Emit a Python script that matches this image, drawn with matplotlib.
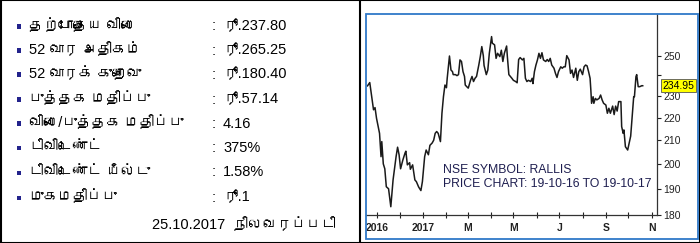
import matplotlib
matplotlib.use("Agg")
import matplotlib.pyplot as plt
import matplotlib.transforms as mtransforms
from matplotlib.patches import Rectangle
from matplotlib import font_manager
from matplotlib.ft2font import FT2Font
import pandas as pd

# --- Datos de la tabla ---
LABELS = ["தற்போதைய விலை", "52 வார அதிகம்", "52 வாரக் குறைவு", "புத்தக மதிப்பு",
          "விலை/புத்தக மதிப்பு", "டிவிடெண்ட்", "டிவிடெண்ட் யீல்டு", "முகமதிப்பு"]
VALUES = ["ரூ.237.80", "ரூ.265.25", "ரூ.180.40", "ரூ.57.14", "4.16", "375%", "1.58%", "ரூ.1"]
FOOTER = "25.10.2017  நிலவரப்படி"

# --- Datos del gráfico (días desde 19-10-2016, precio de cierre) ---
START_DATE = "2016-10-19"
DAYS = [0, 3, 8, 10, 12, 16, 18, 19, 21, 23, 25, 28, 31, 34, 38, 40, 42, 44, 47, 50,
        51, 53, 56, 57, 60, 63, 65, 68, 71, 73, 76, 78, 81, 83, 86, 88, 90, 92, 94, 97,
        99, 101, 103, 105, 106, 109, 111, 113, 114, 117, 119, 121, 123, 125, 127, 129, 130, 132, 134, 137,
        139, 141, 143, 145, 148, 150, 152, 154, 155, 158, 160, 162, 165, 166, 169, 171, 173, 176, 178, 180,
        182, 185, 186, 188, 190, 192, 194, 197, 199, 201, 203, 206, 208, 210, 212, 214, 217, 219, 220, 222,
        224, 226, 228, 230, 232, 234, 237, 239, 241, 243, 245, 248, 250, 252, 254, 257, 259, 261, 263, 265,
        268, 270, 272, 274, 277, 279, 281, 283, 286, 288, 290, 292, 294, 296, 297, 298, 300, 301, 303, 305,
        308, 310, 312, 314, 317, 319, 321, 323, 326, 328, 330, 332, 334, 337, 338, 340, 341, 343, 346, 348,
        350, 352, 354, 355, 357, 358, 360, 362, 365, 366]
PRICES = [234.9, 236.5, 223.6, 224.6, 219.7, 213.0, 203.0, 209.4, 200.0, 198.0,
          190.8, 190.0, 183.1, 193.5, 203.0, 207.0, 203.8, 198.0, 201.6, 204.6,
          205.3, 199.6, 200.5, 197.8, 199.6, 193.5, 192.8, 190.7, 189.3, 192.8,
          203.0, 205.8, 203.8, 207.8, 208.8, 210.0, 213.0, 213.8, 213.0, 209.4,
          222.0, 229.7, 235.3, 234.0, 238.6, 249.8, 242.7, 241.9, 240.4, 240.4,
          239.9, 240.4, 247.8, 247.0, 241.9, 239.5, 235.3, 234.5, 233.8, 237.6,
          239.5, 237.0, 238.6, 239.5, 245.2, 249.5, 254.7, 250.0, 245.0, 240.4,
          242.7, 251.2, 260.0, 256.5, 255.6, 248.6, 251.2, 249.5, 252.8, 247.0,
          251.2, 255.0, 249.5, 240.4, 239.5, 238.6, 237.6, 237.0, 236.4, 248.0,
          249.0, 247.8, 248.6, 238.6, 237.0, 237.6, 237.0, 238.6, 236.0, 241.9,
          245.2, 247.8, 251.2, 248.6, 251.5, 247.8, 247.0, 248.0, 247.0, 248.6,
          245.2, 243.6, 241.0, 239.0, 241.9, 244.3, 243.6, 244.3, 244.3, 250.0,
          247.8, 241.0, 242.7, 239.0, 243.6, 237.6, 241.9, 243.1, 240.4, 244.3,
          245.2, 244.8, 241.9, 238.6, 233.0, 226.6, 229.7, 226.6, 228.9, 228.2,
          228.9, 230.5, 228.2, 226.6, 225.8, 222.0, 224.3, 222.0, 225.3, 221.4,
          225.3, 223.0, 227.4, 227.4, 216.0, 213.0, 214.5, 207.2, 205.8, 208.8,
          211.8, 220.4, 229.7, 229.7, 239.4, 240.4, 234.5, 234.5, 235.0, 234.95]
LAST_PRICE = 234.95
Y_TICKS = [180, 190, 200, 210, 220, 230, 240, 250]
X_TICK_MONTHS = ["2016-11-01", "2016-12-01", "2017-01-01", "2017-02-01", "2017-03-01",
                 "2017-04-01", "2017-05-01", "2017-06-01", "2017-07-01", "2017-08-01",
                 "2017-09-01", "2017-10-01", "2017-11-01"]
X_TICK_LABELS = ["2016", "", "2017", "", "M", "", "M", "", "J", "", "S", "", "N"]
NOTE = "NSE SYMBOL: RALLIS\nPRICE CHART: 19-10-16 TO 19-10-17"

W, H = 700, 243


def find_tamil_font():
    # Buscar una fuente instalada que tenga glifos tamiles
    for f in font_manager.fontManager.ttflist:
        try:
            if 0x0BA4 in FT2Font(f.fname).get_charmap():
                return f.name
        except Exception:
            pass
    return None


tamil = find_tamil_font()
families = ["Liberation Sans"] + ([tamil] if tamil else []) + ["DejaVu Sans"]
plt.rcParams["font.family"] = families


def fx(px):
    return px / W


def fy(py):
    return 1 - py / H


fig = plt.figure(figsize=(7.0, 2.43), dpi=100)
fig.patch.set_facecolor("white")

# Marcos negros
fig.add_artist(Rectangle((fx(0.5), fy(242.5)), fx(699), 242 / H, transform=fig.transFigure,
                         fill=False, edgecolor="black", lw=1.5))
fig.add_artist(plt.Line2D([fx(359.5), fx(359.5)], [0, 1], transform=fig.transFigure,
                          color="black", lw=1.5))
# Marco azul del gráfico
fig.add_artist(Rectangle((fx(366), fy(239)), fx(698 - 366), 225 / H, transform=fig.transFigure,
                         fill=False, edgecolor="#2f78c8", lw=1.3))

# Tabla
row_y = [26, 50, 74, 99, 123, 147, 172, 197]
for y, lab, val in zip(row_y, LABELS, VALUES):
    fig.add_artist(Rectangle((fx(16.5), fy(y + 3)), fx(4.5), 4.5 / H, transform=fig.transFigure,
                             facecolor="#23238c", edgecolor="none"))
    fig.text(fx(29), fy(y + 4.5), lab, fontsize=10.5, va="baseline", ha="left", color="black")
    fig.text(fx(212), fy(y + 4.5), ":", fontsize=10.5, va="baseline", ha="left", color="black")
    fig.text(fx(223), fy(y + 4.5), val, fontsize=10.5, va="baseline", ha="left", color="black")
fig.text(fx(152), fy(229.5), FOOTER, fontsize=10.5, va="baseline", ha="left", color="black")

# Gráfico de precios
ax = fig.add_axes([fx(366), fy(215), fx(657 - 366), (215 - 14) / H])
dates = pd.Timestamp(START_DATE) + pd.to_timedelta(DAYS, unit="D")
ax.plot(dates, PRICES, color="#1a1a1a", lw=1.1)
ax.set_yscale("log")
ax.set_ylim(180, 272.4)
ax.set_xlim(pd.Timestamp("2016-10-17"), pd.Timestamp("2017-11-08"))

ax.yaxis.tick_right()
ax.set_yticks(Y_TICKS)
ax.set_yticklabels([str(v) if v != 240 else "" for v in Y_TICKS])
ax.yaxis.set_minor_locator(matplotlib.ticker.NullLocator())
ax.set_xticks([pd.Timestamp(d) for d in X_TICK_MONTHS])
ax.set_xticklabels(X_TICK_LABELS)
ax.tick_params(axis="y", direction="out", length=3, width=0.8, pad=1.5, labelsize=7.5, colors="#222222")
ax.tick_params(axis="x", direction="inout", length=4, width=0.8, pad=4, labelsize=7.5, colors="#222222")
for lab in ax.get_xticklabels():
    lab.set_fontweight("bold")

for side in ["top", "left"]:
    ax.spines[side].set_visible(False)
for side in ["bottom", "right"]:
    ax.spines[side].set_linewidth(0.9)
    ax.spines[side].set_color("#333333")

# Etiqueta amarilla del último precio
trans = mtransforms.blended_transform_factory(ax.transAxes, ax.transData)
ax.text(1.02, LAST_PRICE, f"{LAST_PRICE:.2f}", transform=trans, fontsize=7.5, ha="left", va="center",
        bbox=dict(boxstyle="square,pad=0.15", facecolor="#ffff00", edgecolor="#555555", lw=0.6),
        clip_on=False)

ax.text(0.265, 0.19, NOTE, transform=ax.transAxes, fontsize=8.8, color="#1e1e50",
        ha="left", va="center", linespacing=1.2)

fig.savefig("out.png", dpi=100)
